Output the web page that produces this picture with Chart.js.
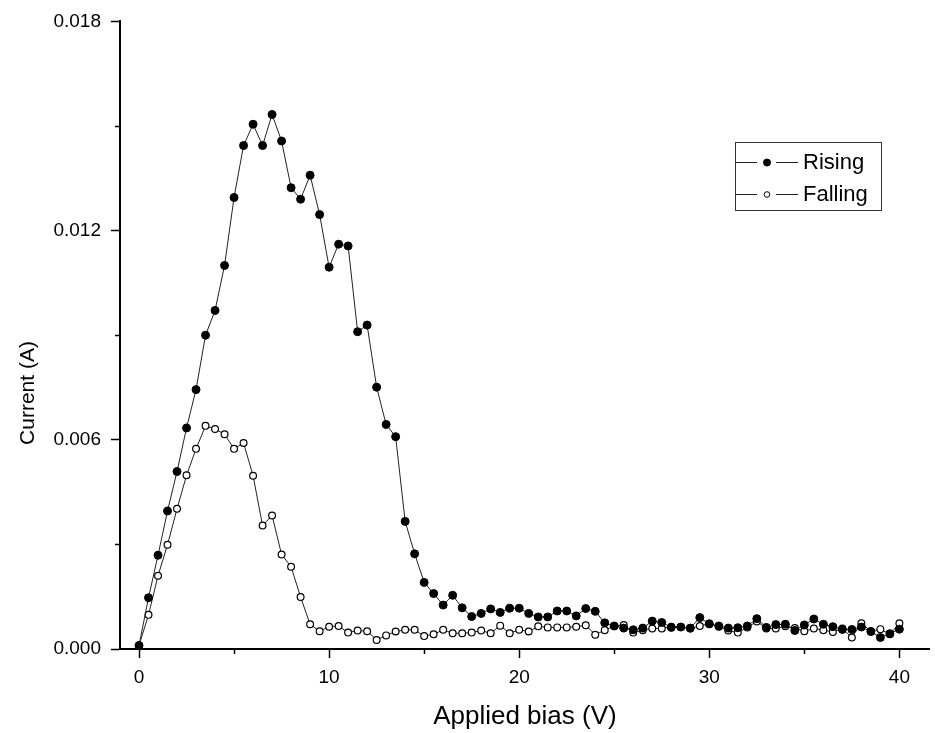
<!DOCTYPE html>
<html>
<head>
<meta charset="utf-8">
<script src="https://cdn.jsdelivr.net/npm/chart.js@4.4.1/dist/chart.umd.min.js"></script>
<style>
  html, body { margin: 0; padding: 0; background: #fff; }
  #wrap { width: 935px; height: 733px; }
</style>
</head>
<body>
<div id="wrap"><canvas id="myChart" width="935" height="733"></canvas></div>
<script>
// applied bias (V)
var biasV = [0, 0.5, 1, 1.5, 2, 2.5, 3, 3.5, 4, 4.5, 5, 5.5, 6, 6.5, 7, 7.5, 8, 8.5, 9, 9.5,
  10, 10.5, 11, 11.5, 12, 12.5, 13, 13.5, 14, 14.5, 15, 15.5, 16, 16.5, 17, 17.5, 18, 18.5, 19, 19.5,
  20, 20.5, 21, 21.5, 22, 22.5, 23, 23.5, 24, 24.5, 25, 25.5, 26, 26.5, 27, 27.5, 28, 28.5, 29, 29.5,
  30, 30.5, 31, 31.5, 32, 32.5, 33, 33.5, 34, 34.5, 35, 35.5, 36, 36.5, 37, 37.5, 38, 38.5, 39, 39.5, 40];

// current (A)
var rising = [0.0001, 0.00147, 0.00269, 0.00396, 0.00509, 0.00634, 0.00744, 0.0090, 0.00971, 0.0110,
  0.01295, 0.01444, 0.01505, 0.01444, 0.01533, 0.01457, 0.01323, 0.0129, 0.01359, 0.01246,
  0.01095, 0.01161, 0.01156, 0.0091, 0.00929, 0.00751, 0.00644, 0.00609, 0.00366, 0.00273,
  0.00191, 0.00159, 0.00126, 0.00154, 0.00118, 0.00093, 0.00102, 0.00115, 0.00105, 0.00117,
  0.00117, 0.00102, 0.00092, 0.00092, 0.00109, 0.00109, 0.00095, 0.00116, 0.00108, 0.00075,
  0.00066, 0.00060, 0.00055, 0.00060, 0.00080, 0.00076, 0.00062, 0.00063, 0.00060, 0.00090,
  0.00072, 0.00066, 0.00060, 0.00061, 0.00066, 0.00087, 0.00062, 0.00070, 0.00071, 0.00053,
  0.00069, 0.00086, 0.00071, 0.00064, 0.00056, 0.00056, 0.00063, 0.00050, 0.00033, 0.00044, 0.00057];

var falling = [0.0001, 0.00098, 0.0021, 0.00299, 0.00402, 0.00498, 0.00574, 0.0064, 0.00631, 0.00616,
  0.00574, 0.00591, 0.00497, 0.00354, 0.00383, 0.00271, 0.00236, 0.00149, 0.00071, 0.00051,
  0.00064, 0.00066, 0.00047, 0.00053, 0.00051, 0.00026, 0.00039, 0.0005, 0.00055, 0.00055,
  0.00037, 0.00042, 0.00055, 0.00045, 0.00045, 0.00047, 0.00053, 0.00045, 0.00067, 0.00045,
  0.00055, 0.0005, 0.00065, 0.00062, 0.00062, 0.00062, 0.00064, 0.00068, 0.00041, 0.00054,
  0.00066, 0.00069, 0.00047, 0.00054, 0.00059, 0.00059, 0.00064, 0.00063, 0.00059, 0.00066,
  0.00073, 0.00064, 0.00053, 0.00047, 0.00062, 0.00079, 0.00059, 0.00059, 0.00065, 0.0006,
  0.00051, 0.00059, 0.00054, 0.00049, 0.00059, 0.00033, 0.00074, 0.00051, 0.00057, 0.00042, 0.00074];

var xMajor = [0, 10, 20, 30, 40];
var xMinor = [5, 15, 25, 35];
var yMajor = [0, 0.006, 0.012, 0.018];
var yMinor = [0.003, 0.009, 0.015];

var seriesNames = ['Rising', 'Falling'];
var yTitle = 'Current (A)';

var FONT = 'Liberation Sans, Arial, sans-serif';

function toPoints(ys) {
    return biasV.map(function(x, i) { return { x: x, y: ys[i] }; });
}

// minor ticks, y title (sits below the middle) and boxed legend
var extrasPlugin = {
    id: 'extras',
    afterDraw: function(chart) {
        var ctx = chart.ctx;
        var xs = chart.scales.x, ys = chart.scales.y;
        ctx.save();
        ctx.strokeStyle = '#000';
        ctx.lineWidth = 1.5;
        ctx.beginPath();
        xMinor.forEach(function(v) {
            var px = Math.round(xs.getPixelForValue(v)) + 0.5;
            ctx.moveTo(px, xs.top); ctx.lineTo(px, xs.top + 5);
        });
        yMinor.forEach(function(v) {
            var py = Math.round(ys.getPixelForValue(v)) + 0.5;
            ctx.moveTo(ys.right, py); ctx.lineTo(ys.right - 5, py);
        });
        ctx.stroke();

        // y title
        ctx.save();
        ctx.translate(28, 393);
        ctx.rotate(-Math.PI / 2);
        ctx.font = '21px ' + FONT;
        ctx.textAlign = 'center';
        ctx.textBaseline = 'middle';
        ctx.fillStyle = '#000';
        ctx.fillText(yTitle, 0, 0);
        ctx.restore();

        // legend box
        var bx = 735, by = 142, bw = 146, bh = 68;
        ctx.lineWidth = 1;
        ctx.strokeStyle = '#333';
        ctx.strokeRect(bx + 0.5, by + 0.5, bw, bh);
        ctx.font = '22px ' + FONT;
        ctx.textBaseline = 'middle';
        chart.data.datasets.forEach(function(ds, i) {
            var cy = by + 20 + i * 32;
            ctx.strokeStyle = '#222';
            ctx.lineWidth = 1;
            ctx.beginPath();
            ctx.moveTo(bx + 1, cy + 0.5); ctx.lineTo(bx + 22, cy + 0.5);
            ctx.moveTo(bx + 41, cy + 0.5); ctx.lineTo(bx + 63, cy + 0.5);
            ctx.stroke();
            ctx.beginPath();
            ctx.arc(bx + 32, cy + 0.5, i === 0 ? 3.5 : 2.8, 0, Math.PI * 2);
            ctx.fillStyle = ds.pointBackgroundColor;
            ctx.fill();
            ctx.strokeStyle = '#000';
            ctx.stroke();
            ctx.fillStyle = '#000';
            ctx.fillText(ds.label, bx + 68, cy + 1);
        });
        ctx.restore();
    }
};

var ctx = document.getElementById('myChart');
new Chart(ctx, {
    type: 'line',
    data: {
        datasets: [{
            label: seriesNames[0],
            data: toPoints(rising),
            borderColor: '#222',
            borderWidth: 1,
            pointRadius: 4,
            pointBackgroundColor: '#000',
            pointBorderColor: '#000',
            pointBorderWidth: 1,
            tension: 0
        }, {
            label: seriesNames[1],
            data: toPoints(falling),
            borderColor: '#222',
            borderWidth: 1,
            pointRadius: 3.4,
            pointBackgroundColor: '#fff',
            pointBorderColor: '#000',
            pointBorderWidth: 1.2,
            tension: 0
        }]
    },
    options: {
        responsive: false,
        animation: false,
        layout: { padding: { top: 19, right: 0, left: 0, bottom: 0 } },
        plugins: {
            legend: { display: false },
            tooltip: { enabled: false }
        },
        scales: {
            x: {
                type: 'linear',
                min: -1,
                max: 41.6,
                afterBuildTicks: function(scale) {
                    scale.ticks = xMajor.map(function(v) { return { value: v }; });
                },
                afterFit: function(scale) { scale.height = 84; },
                grid: { drawOnChartArea: false, tickLength: 9, tickWidth: 1.5, tickColor: '#000' },
                border: { display: true, color: '#000', width: 2 },
                ticks: {
                    color: '#000',
                    font: { family: FONT, size: 19 },
                    padding: 8,
                    maxRotation: 0,
                    callback: function(v) { return String(v); }
                },
                title: {
                    display: true,
                    text: 'Applied bias (V)',
                    color: '#000',
                    font: { family: FONT, size: 26, lineHeight: 1 },
                    padding: { top: 0, bottom: 3 }
                }
            },
            y: {
                min: 0,
                max: 0.018,
                afterBuildTicks: function(scale) {
                    scale.ticks = yMajor.map(function(v) { return { value: v }; });
                },
                afterFit: function(scale) { scale.width = 120; },
                grid: { drawOnChartArea: false, tickLength: 9, tickWidth: 1.5, tickColor: '#000' },
                border: { display: true, color: '#000', width: 2 },
                ticks: {
                    color: '#000',
                    font: { family: FONT, size: 19 },
                    padding: 10,
                    callback: function(v) { return v.toFixed(3); }
                },
                title: { display: false }
            }
        }
    },
    plugins: [extrasPlugin]
});
</script>
</body>
</html>
